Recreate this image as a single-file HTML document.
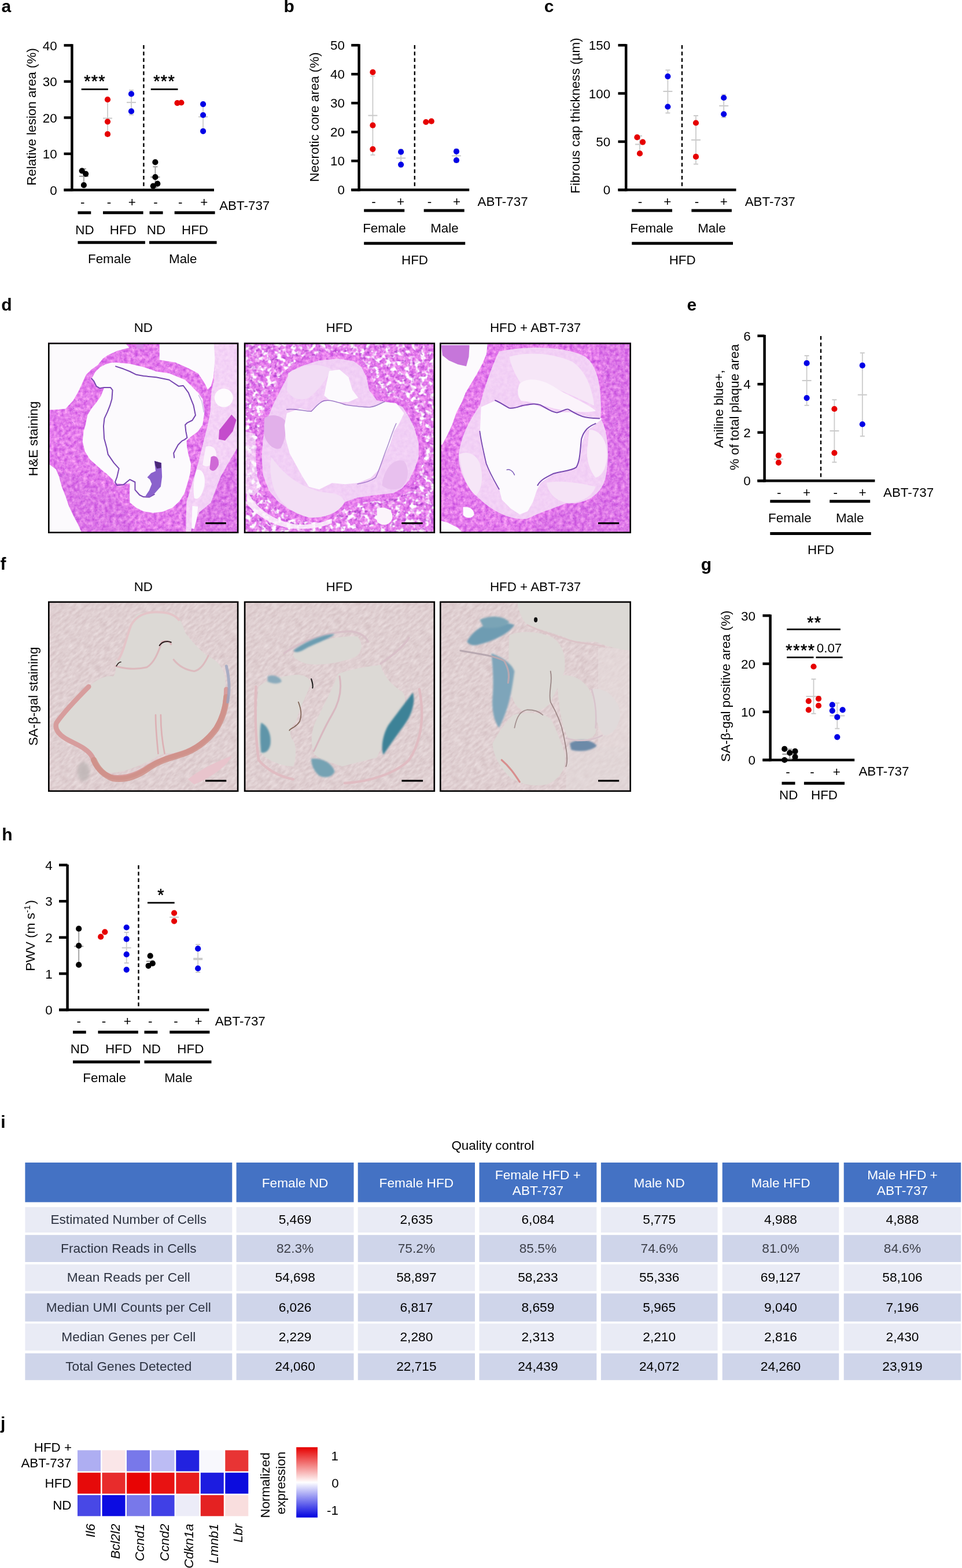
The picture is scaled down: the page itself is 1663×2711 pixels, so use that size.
<!DOCTYPE html>
<html><head><meta charset="utf-8"><title>Figure</title><style>html,body{margin:0;padding:0;background:#fff;}svg{display:block;}</style></head><body>
<svg width="1663" height="2711" viewBox="0 0 1663 2711" font-family="'Liberation Sans', Arial, sans-serif">
<rect width="1663" height="2711" fill="#ffffff"/>
<text x="2.2" y="537.0" font-size="30" text-anchor="start" font-weight="bold" fill="#000" >d</text>
<text x="0.4" y="985.2" font-size="30" text-anchor="start" font-weight="bold" fill="#000" >f</text>
<text x="247.8" y="574.4" font-size="22.4" text-anchor="middle" font-weight="normal" fill="#000" >ND</text>
<text x="247.8" y="1022.3" font-size="22.4" text-anchor="middle" font-weight="normal" fill="#000" >ND</text>
<text x="586.5" y="574.4" font-size="22.4" text-anchor="middle" font-weight="normal" fill="#000" >HFD</text>
<text x="586.5" y="1022.3" font-size="22.4" text-anchor="middle" font-weight="normal" fill="#000" >HFD</text>
<text x="925.6" y="574.4" font-size="22.4" text-anchor="middle" font-weight="normal" fill="#000" >HFD + ABT-737</text>
<text x="925.6" y="1022.3" font-size="22.4" text-anchor="middle" font-weight="normal" fill="#000" >HFD + ABT-737</text>
<text transform="translate(65.0,758.5) rotate(-90)" x="0" y="0" font-size="22.4" text-anchor="middle" >H&amp;E staining</text>
<text transform="translate(65.0,1203.9) rotate(-90)" x="0" y="0" font-size="22.4" text-anchor="middle" >SA-β-gal staining</text>
<defs><filter id="holes" x="0" y="0" width="1" height="1"><feTurbulence type="fractalNoise" baseFrequency="0.026" numOctaves="2" seed="7" result="n"/><feColorMatrix in="n" type="matrix" values="0 0 0 0 1  0 0 0 0 1  0 0 0 0 1  5 0 0 0 -2.45" result="a"/><feComposite in="SourceGraphic" in2="a" operator="in"/></filter><filter id="spots" x="0" y="0" width="1" height="1"><feTurbulence type="fractalNoise" baseFrequency="0.032" numOctaves="2" seed="3" result="n"/><feColorMatrix in="n" type="matrix" values="0 0 0 0 1  0 0 0 0 1  0 0 0 0 1  0 5 0 0 -2.9" result="a"/><feComposite in="SourceGraphic" in2="a" operator="in"/></filter><filter id="blur6"><feGaussianBlur stdDeviation="12"/></filter><filter id="bl" x="-0.2" y="-0.2" width="1.4" height="1.4"><feGaussianBlur stdDeviation="7"/></filter><filter id="heT" x="0" y="0" width="1" height="1" color-interpolation-filters="sRGB"><feTurbulence type="fractalNoise" baseFrequency="0.035" numOctaves="3" seed="4" result="n"/><feColorMatrix in="n" type="matrix" values="0.32 0 0 0 0.735  0.55 0 0 0 0.21  0.15 0 0 0 0.85  0 0 0 0 1" result="base"/><feTurbulence type="fractalNoise" baseFrequency="0.11" numOctaves="2" seed="9" result="m"/><feColorMatrix in="m" type="matrix" values="0 0 0 0 0.55  0 0 0 0 0.36  0 0 0 0 0.82  -6 0 0 0 1.75" result="dots"/><feComposite in="dots" in2="base" operator="over"/></filter><filter id="sbT" x="0" y="0" width="1" height="1" color-interpolation-filters="sRGB"><feTurbulence type="fractalNoise" baseFrequency="0.02 0.05" numOctaves="3" seed="11"/><feColorMatrix type="matrix" values="0.12 0 0 0 0.815  0.16 0 0 0 0.732  0.15 0 0 0 0.745  0 0 0 0 1"/></filter><pattern id="heP" patternUnits="userSpaceOnUse" width="1511" height="1511"><rect width="1511" height="1511" filter="url(#heT)"/></pattern></defs>
<clipPath id="clip1"><rect x="83" y="592.5" width="329.4" height="329.5"/></clipPath>
<g clip-path="url(#clip1)"><g transform="translate(80,590) scale(0.222369)">
<rect x="0" y="0" width="1511" height="1511" filter="url(#heT)"/><path d="M20,1000 L150,1020 L300,1070 L480,1150 L620,1290 L690,1511 L0,1511 Z" fill="#b050d0" opacity="0.12"/><path d="M1300,980 L1511,880 L1511,1511 L1120,1511 L1180,1280 Z" fill="#b050d0" opacity="0.12"/><path d="M1305,0 L1511,0 L1511,800 L1485,830 L1420,940 L1355,1055 L1280,1255 L1190,1330 L1130,1455 L1120,1511 L1085,1511 L1090,1250 L1120,1150 L1150,1050 L1180,950 L1205,850 L1230,750 L1255,650 L1275,550 L1280,450 L1285,380 L1305,300 Z" fill="#f7e9f9" opacity="0.8"/><circle cx="1380" cy="440" r="72" fill="#fdfbfd"/><path d="M1240,820 C1290,800 1330,840 1320,900 C1300,960 1250,990 1215,960 Z" fill="#fbf3fb" /><path d="M1170,1000 C1210,990 1240,1040 1230,1120 C1215,1200 1180,1240 1150,1220 C1140,1150 1145,1060 1170,1000 Z" fill="#fcfafd" /><path d="M1135,1280 L1180,1285 L1170,1380 L1150,1460 L1130,1455 Z" fill="#fcfafd" /><path d="M1440,570 L1478,612 L1450,700 L1390,772 L1340,762 L1345,690 L1400,622 Z" fill="#c44ccc" /><path d="M1280,900 C1310,880 1345,900 1340,960 C1320,1010 1290,1020 1270,990 Z" fill="#cf6ad6" /><path d="M0,0 L600,0 L645,50 L550,75 L475,110 L440,135 L400,185 L350,220 L310,260 L280,325 L250,390 L210,460 L150,525 L75,532 L0,534 Z" fill="#fcfafd" /><path d="M0,940 L75,995 L100,1055 L120,1130 L150,1205 L175,1280 L210,1355 L250,1430 L285,1511 L0,1511 Z" fill="#fcfafd" /><path d="M880,0 L1305,0 L1310,150 L1300,280 L1280,350 L1255,375 L1230,325 L1180,250 L1105,210 L1005,165 L880,145 Z" fill="#fcfafd" /><path d="M700,20 L760,25 L750,60 L700,55 Z" fill="#d88ae8" /><path d="M355,288 L380,240 L420,200 L460,180 L500,168 L540,165 L650,175 L755,200 L855,235 L955,250 L1030,280 L1080,300 L1130,350 L1180,400 L1215,450 L1230,550 L1215,650 L1180,700 L1120,745 L1090,775 L1095,830 L1105,880 L1125,955 L1120,1020 L1105,1080 L1075,1180 L1035,1245 L980,1295 L905,1325 L830,1335 L755,1322 L700,1295 L650,1255 L648,1180 L650,1105 L590,1110 L530,1105 L520,1080 L475,1035 L425,995 L380,955 L340,920 L300,855 L282,780 L290,700 L305,650 L320,575 L350,525 L390,475 L425,425 L450,360 L415,365 L390,350 L370,310 Z" fill="#fcfafd" /><path d="M540,195 L600,215 L650,235 L700,260 L755,270 L855,280 L955,300 L1030,350 L1065,345 L1105,400 L1145,500 L1160,575 L1135,615 L1095,635 L1080,650 L1085,700 L1095,750 L1075,765 L1055,775 L1025,805 L990,870 L995,905" fill="none" stroke="#7646b0" stroke-width="9" stroke-linejoin="round" stroke-linecap="round" /><path d="M352,290 L370,310 L390,350 L415,365 L450,360 L500,360 L515,380 L510,450 L495,500 L475,550 L452,600 L445,660 L450,755 L470,830 L480,880 L525,945 L565,990 L550,1055 L535,1095 L550,1120 L600,1115 L650,1075 L690,1095 L690,1155 L725,1195 L755,1210 L800,1212 L840,1190" fill="none" stroke="#7646b0" stroke-width="9" stroke-linejoin="round" stroke-linecap="round" /><path d="M1185,420 L1210,470 L1225,550" fill="none" stroke="#a070d0" stroke-width="6" stroke-linejoin="round" stroke-linecap="round" opacity="0.5"/><path d="M840,930 L895,945 L900,1055 L890,1130 L845,1180 L805,1212 L770,1205 L800,1160 L820,1110 L805,1075 L785,1058 L815,1025 L850,1010 L845,970 Z" fill="#8a62cc" /><path d="M842,932 L893,946 L892,985 L860,990 L848,965 Z" fill="#4a2878" />
</g></g>
<rect x="355.3" y="903.1" width="35.6" height="3.1" fill="#000"/>
<rect x="84.3" y="593.8" width="326.8" height="326.9" fill="none" stroke="#000" stroke-width="2.6"/>
<clipPath id="clip2"><rect x="421.8" y="592.5" width="330.3" height="329.5"/></clipPath>
<g clip-path="url(#clip2)"><g transform="translate(418,590) scale(0.222369)">
<rect x="0" y="0" width="1511" height="1511" filter="url(#heT)"/><rect x="0" y="0" width="1511" height="1511" fill="#fff" filter="url(#holes)"/><rect x="0" y="0" width="1511" height="1511" fill="#a838c8" filter="url(#spots)" opacity="0.75"/><path d="M40,1150 C80,1260 200,1380 400,1420 C500,1435 600,1420 700,1380 L700,1415 C600,1455 480,1465 380,1455 C250,1435 120,1365 40,1265 Z" fill="#fbf5fc" opacity="0.85"/><path d="M20,700 L105,720 L112,950 L145,1150 L95,1200 L20,1180 Z" fill="#fbf5fc" opacity="0.6"/><path d="M1050,1300 C1120,1280 1180,1310 1170,1380 C1150,1440 1080,1440 1050,1400 Z" fill="#fbf4fb" /><path d="M330,230 L450,150 L600,100 L750,85 L880,110 L950,160 L1000,250 L1030,350 L1100,420 L1200,440 L1280,470 L1330,550 L1380,650 L1420,780 L1420,900 L1390,1000 L1340,1100 L1280,1180 L1200,1220 L1050,1240 L900,1260 L800,1300 L700,1380 L600,1410 L480,1400 L350,1350 L250,1280 L170,1180 L120,1050 L110,900 L120,750 L150,600 L200,480 L260,350 Z" fill="url(#heP)" /><path d="M360,270 L460,195 L600,150 L750,135 L870,155 L930,200 L970,280 L990,380 L1050,460 L1180,480 L1250,510 L1295,580 L1340,670 L1375,790 L1375,900 L1345,990 L1300,1080 L1245,1145 L1180,1180 L1050,1195 L900,1215 L790,1255 L690,1335 L600,1365 L490,1355 L370,1310 L280,1245 L210,1160 L165,1040 L155,900 L165,760 L195,615 L240,500 L300,380 Z" fill="#f3def7" opacity="0.85"/><path d="M175,600 C220,560 300,570 342,622 C352,700 332,780 302,832 C252,852 192,802 172,722 Z" fill="#e2b0ea" /><path d="M1090,1120 C1100,1000 1180,900 1262,932 C1312,1002 1292,1102 1232,1142 C1182,1162 1122,1152 1090,1120 Z" fill="#e8c0ee" /><path d="M230,900 C300,1000 400,1100 550,1150 C650,1200 760,1150 800,1250 C760,1330 650,1380 520,1370 C400,1340 300,1270 250,1150 C220,1050 215,970 230,900 Z" fill="#f3dff5" /><path d="M360,250 C450,180 600,160 700,220 C650,300 600,380 520,440 C450,470 380,440 350,380 Z" fill="#f2dcf5" /><path d="M680,230 L760,220 L830,280 L860,380 L905,440 L830,472 L700,472 L640,422 L660,322 Z" fill="#fcfafd" /><path d="M350,560 L450,522 L540,545 L600,477 L700,457 L800,492 L900,502 L1000,512 L1100,472 L1200,482 L1262,560 L1222,642 L1182,702 L1152,802 L1102,902 L1062,1002 L1002,1062 L902,1102 L802,1112 L702,1102 L602,1152 L522,1132 L472,1052 L422,962 L372,872 L342,762 L332,652 Z" fill="#fcfafd" /><path d="M350,530 C420,520 480,545 540,545 C570,520 590,480 640,462 C700,452 760,480 810,495 C880,505 950,515 1000,512 C1050,505 1080,480 1110,470" fill="none" stroke="#7646b0" stroke-width="7" stroke-linejoin="round" stroke-linecap="round" opacity="0.7"/><path d="M1200,640 C1170,700 1150,780 1120,850 C1090,930 1070,1000 1040,1060 C1000,1090 950,1100 900,1110" fill="none" stroke="#7646b0" stroke-width="7" stroke-linejoin="round" stroke-linecap="round" opacity="0.6"/>
</g></g>
<rect x="694.2" y="903.1" width="36.5" height="3.1" fill="#000"/>
<rect x="423.1" y="593.8" width="327.7" height="326.9" fill="none" stroke="#000" stroke-width="2.6"/>
<clipPath id="clip3"><rect x="760" y="592.5" width="331" height="329.5"/></clipPath>
<g clip-path="url(#clip3)"><g transform="translate(756,590) scale(0.222369)">
<rect x="0" y="0" width="1511" height="1511" filter="url(#heT)"/><path d="M1250,0 L1511,0 L1511,1511 L700,1511 L800,1380 L1000,1300 L1200,1250 L1300,1100 L1320,800 L1300,500 L1280,250 Z" fill="#b050d0" opacity="0.12"/><path d="M0,0 L392,0 L382,100 L350,175 L310,250 L265,325 L220,400 L190,475 L150,550 L115,650 L75,735 L40,800 L0,830 Z" fill="#fcfafd" /><path d="M30,30 L250,30 L245,120 L225,195 L160,180 L90,150 L40,110 Z" fill="#c676da" /><path d="M0,1390 L80,1410 L160,1450 L215,1511 L0,1511 Z" fill="#fcfafd" /><path d="M200,1290 C250,1280 290,1310 285,1350 C270,1380 220,1380 200,1350 Z" fill="#fcfafd" /><path d="M480,80 C700,30 1000,40 1150,120 C1260,200 1280,400 1270,600 C1330,700 1340,900 1310,1050 C1280,1200 1150,1270 1000,1260 C900,1300 800,1330 700,1380 C550,1400 400,1300 300,1200 C200,1100 150,950 170,850 C200,700 260,600 330,500 C370,350 420,200 480,80 Z" fill="#f4dff7" opacity="0.85"/><path d="M560,120 C700,80 900,90 1050,160 C1150,230 1200,350 1220,500 C1150,470 1050,420 950,380 C850,330 750,300 650,330 C600,250 570,180 560,120 Z" fill="#f6e6f7" /><path d="M640,330 C700,280 800,290 900,350 C1000,420 1150,470 1232,542 C1150,562 1050,542 950,532 C850,512 750,472 650,462 C620,422 620,372 640,330 Z" fill="#fbf3fb" /><path d="M1180,690 C1250,680 1320,760 1320,880 C1320,980 1280,1050 1230,1060 C1180,1000 1150,900 1170,800 Z" fill="#f8ecf8" /><path d="M850,1100 C950,1080 1100,1100 1230,1130 C1200,1220 1100,1260 1000,1255 C920,1240 860,1180 850,1100 Z" fill="#f5e3f6" /><path d="M170,880 C220,850 300,870 330,950 C360,1050 350,1150 300,1200 C240,1150 190,1050 170,880 Z" fill="#f6e6f7" /><path d="M340,512 L450,462 L510,492 L560,522 L650,512 L750,492 L850,527 L950,552 L1050,552 L1150,582 L1282,602 L1222,652 L1152,702 L1122,802 L1112,902 L1082,982 L1002,1012 L902,1032 L802,1102 L772,1162 L742,1252 L702,1322 L642,1347 L572,1302 L502,1232 L482,1152 L422,1062 L382,952 L352,852 L332,702 Z" fill="#fcfafd" /><path d="M450,460 C480,470 520,500 560,520 C600,525 630,510 660,500 C720,490 760,480 800,495 C850,520 880,550 930,555 C980,545 1000,520 1020,530 C1060,555 1100,580 1150,590 C1200,600 1230,600 1260,600" fill="none" stroke="#7646b0" stroke-width="9" stroke-linejoin="round" stroke-linecap="round" /><path d="M1230,640 C1180,660 1140,690 1120,760 C1110,850 1110,930 1080,980 C1040,1010 960,1010 900,1030 C840,1060 800,1080 780,1120" fill="none" stroke="#7646b0" stroke-width="9" stroke-linejoin="round" stroke-linecap="round" /><path d="M330,700 C340,780 360,860 380,950 C410,1030 440,1080 480,1150" fill="none" stroke="#7646b0" stroke-width="8" stroke-linejoin="round" stroke-linecap="round" /><path d="M540,1000 C560,990 590,1010 600,1040" fill="none" stroke="#7a58b8" stroke-width="6" stroke-linejoin="round" stroke-linecap="round" />
</g></g>
<rect x="1034" y="903.1" width="36.2" height="3.1" fill="#000"/>
<rect x="761.3" y="593.8" width="328.4" height="326.9" fill="none" stroke="#000" stroke-width="2.6"/>
<clipPath id="clip4"><rect x="83" y="1039.6" width="329.4" height="329.4"/></clipPath>
<g clip-path="url(#clip4)"><g transform="translate(80,1036) scale(0.222369)">
<rect x="-900" y="-900" width="3300" height="3300" filter="url(#sbT)" transform="rotate(-40 755 755)"/><path d="M700,120 C760,90 900,90 990,110 C1040,140 1060,200 1080,260 C1130,330 1200,400 1250,440 C1320,470 1370,520 1390,600 C1400,700 1380,800 1360,880 C1320,980 1280,1050 1200,1120 C1100,1180 1000,1200 920,1200 C870,1210 840,1240 800,1260 C700,1300 600,1350 500,1350 C400,1340 360,1280 350,1200 C300,1140 200,1100 120,1050 C70,1000 70,950 110,900 C180,830 250,750 330,680 C400,620 460,590 520,600 C560,560 520,500 560,460 C600,420 620,300 650,200 Z" fill="#dcd9d5" /><path d="M330,680 C250,760 150,860 80,960 C60,1010 100,1060 180,1100 C260,1140 330,1170 360,1230 C380,1300 420,1350 500,1380 C600,1400 700,1370 800,1300 C880,1250 950,1230 1050,1200 C1150,1170 1250,1100 1320,1000 C1380,900 1400,800 1400,700" fill="none" stroke="#d79d9d" stroke-width="38" stroke-linejoin="round" stroke-linecap="round" /><path d="M370,1250 C400,1320 450,1370 520,1395 C620,1410 720,1370 800,1310 C880,1255 960,1235 1060,1205 C1160,1170 1250,1105 1320,1010 C1370,930 1395,850 1400,760" fill="none" stroke="#cf9088" stroke-width="46" stroke-linejoin="round" stroke-linecap="round" opacity="0.85"/><path d="M560,470 C600,420 620,300 660,200 C700,130 760,100 850,100 C950,100 1000,120 1030,160" fill="none" stroke="#e4c4c8" stroke-width="18" stroke-linejoin="round" stroke-linecap="round" /><path d="M540,520 C600,540 700,550 780,530 C850,490 880,380 900,330 C930,320 960,330 970,350" fill="none" stroke="#dcb8bc" stroke-width="14" stroke-linejoin="round" stroke-linecap="round" /><path d="M880,360 C900,330 940,320 970,335" fill="none" stroke="#2a1c1c" stroke-width="9" stroke-linejoin="round" stroke-linecap="round" /><path d="M545,520 C555,500 565,490 580,488" fill="none" stroke="#2a1c1c" stroke-width="7" stroke-linejoin="round" stroke-linecap="round" /><path d="M990,470 C1030,520 1080,550 1150,560 C1200,550 1230,500 1260,440" fill="none" stroke="#dcbabe" stroke-width="14" stroke-linejoin="round" stroke-linecap="round" /><path d="M1400,520 C1420,600 1430,700 1410,800" fill="none" stroke="#9aa4c0" stroke-width="22" stroke-linejoin="round" stroke-linecap="round" opacity="0.8"/><path d="M850,900 C850,1000 860,1100 870,1200 M890,900 C890,1000 900,1100 920,1200" fill="none" stroke="#dcb0b4" stroke-width="12" stroke-linejoin="round" stroke-linecap="round" /><ellipse cx="290" cy="1340" rx="48" ry="75" fill="#bdb5b5" opacity="0.8" filter="url(#blur6)"/><path d="M1100,1400 C1200,1320 1350,1250 1440,1220 C1420,1280 1300,1380 1150,1440 Z" fill="#e8c4cc" />
</g></g>
<rect x="355" y="1348.4" width="36.3" height="3.1" fill="#000"/>
<rect x="84.3" y="1040.9" width="326.8" height="326.8" fill="none" stroke="#000" stroke-width="2.6"/>
<clipPath id="clip5"><rect x="421.8" y="1039.6" width="330.3" height="329.4"/></clipPath>
<g clip-path="url(#clip5)"><g transform="translate(418,1036) scale(0.222369)">
<rect x="-900" y="-900" width="3300" height="3300" filter="url(#sbT)" transform="rotate(-40 755 755)"/><path d="M130,680 C200,620 300,600 400,590 C470,580 520,600 540,650 C500,750 450,850 420,950 C380,1000 360,1050 400,1100 C430,1150 420,1250 400,1300 C300,1300 200,1250 150,1200 C110,1100 110,900 130,680 Z" fill="#dcd9d5" /><path d="M750,580 C850,540 1000,520 1080,510 C1100,600 1180,680 1250,720 C1300,800 1250,900 1180,980 C1120,1050 1090,1150 1050,1230 C950,1260 850,1280 780,1300 C700,1270 600,1250 560,1200 C530,1100 540,1000 600,900 C650,800 700,700 750,580 Z" fill="#dcd9d5" /><path d="M400,420 C500,350 700,280 900,290 C950,350 930,420 880,450 C750,500 600,520 500,500 C430,480 390,450 400,420 Z" fill="#dcd9d5" /><path d="M110,680 C100,900 110,1100 130,1250 C200,1330 300,1380 400,1400 M1380,700 C1420,900 1400,1100 1300,1250 C1200,1350 1000,1420 800,1430" fill="none" stroke="#e0bcc2" stroke-width="20" stroke-linejoin="round" stroke-linecap="round" /><path d="M330,420 C450,330 650,260 820,250 C900,250 960,280 980,330 M1080,500 C1150,450 1250,380 1300,300" fill="none" stroke="#d8c0c8" stroke-width="16" stroke-linejoin="round" stroke-linecap="round" /><path d="M1330,725 C1352,800 1322,900 1262,980 C1202,1060 1142,1150 1100,1210 C1078,1150 1098,1050 1138,980 C1198,900 1258,820 1330,725 Z" fill="#3d8297" filter="url(#bl)"/><path d="M150,960 C200,980 232,1050 222,1130 C212,1180 182,1200 150,1192 C140,1100 140,1000 150,960 Z" fill="#5f95a9" filter="url(#bl)"/><path d="M540,1240 C620,1230 700,1270 722,1340 C700,1390 640,1392 600,1372 C560,1332 540,1292 540,1240 Z" fill="#74a2b3" filter="url(#bl)"/><path d="M400,400 C500,320 650,270 722,270 C700,300 600,332 500,382 C450,412 420,420 400,400 Z" fill="#6c9db1" filter="url(#bl)"/><path d="M200,600 C240,580 300,600 310,640 C290,660 240,660 200,640 Z" fill="#8aaabb" filter="url(#bl)"/><path d="M440,800 C460,850 470,900 450,950 C420,1000 380,1000 370,1020" fill="none" stroke="#6a4a3a" stroke-width="8" stroke-linejoin="round" stroke-linecap="round" opacity="0.8"/><path d="M540,620 C550,650 555,670 550,690" fill="none" stroke="#1a1a1a" stroke-width="9" stroke-linejoin="round" stroke-linecap="round" /><path d="M560,1180 C600,1100 640,1000 700,900 C760,800 780,700 760,600" fill="none" stroke="#d8b8c0" stroke-width="14" stroke-linejoin="round" stroke-linecap="round" />
</g></g>
<rect x="694.4" y="1348.4" width="36.7" height="3.1" fill="#000"/>
<rect x="423.1" y="1040.9" width="327.7" height="326.8" fill="none" stroke="#000" stroke-width="2.6"/>
<clipPath id="clip6"><rect x="760" y="1039.6" width="331" height="329.4"/></clipPath>
<g clip-path="url(#clip6)"><g transform="translate(756,1036) scale(0.222369)">
<rect x="-900" y="-900" width="3300" height="3300" filter="url(#sbT)" transform="rotate(-40 755 755)"/><path d="M1250,380 L1511,380 L1511,1150 L1250,1150 Z" fill="#e6dcdc" opacity="0.6"/><path d="M1000,1150 L1511,1150 L1511,1511 L1000,1511 Z" fill="#e2dada" opacity="0.6"/><path d="M620,20 L1511,20 L1511,400 C1400,390 1300,360 1230,330 C1150,330 1080,340 1000,300 C900,260 800,240 700,200 C650,150 630,80 620,20 Z" fill="#dcd9d5" /><path d="M560,280 C650,240 800,250 900,300 C980,360 1000,450 990,550 C960,650 920,720 880,800 C840,860 760,880 680,870 C610,850 580,780 570,700 C555,560 550,420 560,280 Z" fill="#dcd9d5" /><path d="M590,900 C700,870 820,880 880,930 C920,1000 960,1100 990,1200 C1010,1300 960,1400 850,1440 C740,1460 640,1440 560,1380 C480,1300 430,1200 430,1120 C480,1030 530,950 590,900 Z" fill="#dcd9d5" /><path d="M930,600 C1020,570 1120,610 1180,700 C1230,800 1250,920 1230,1040 C1200,1100 1100,1110 1020,1080 C970,1000 940,850 930,600 Z" fill="#dcd9d5" /><path d="M1200,700 C1300,680 1400,760 1420,880 C1420,980 1370,1050 1300,1060 C1240,1000 1220,900 1200,700 Z" fill="#e0dada" /><path d="M230,330 C300,200 450,150 600,200 C560,260 480,300 400,330 C330,350 270,380 230,330 Z" fill="#6e9cb2" filter="url(#bl)"/><path d="M330,160 C420,120 520,130 560,180 C520,220 430,230 360,220 Z" fill="#7aa4b6" filter="url(#bl)"/><path d="M420,420 C500,450 580,500 600,560 C580,700 560,850 480,1000 C440,950 420,850 430,750 C440,650 430,520 420,420 Z" fill="#7ea5ba" filter="url(#bl)"/><path d="M1030,1120 C1100,1080 1200,1090 1240,1140 C1200,1180 1100,1190 1040,1170 Z" fill="#6c8aa8" filter="url(#bl)"/><path d="M180,400 C300,420 450,440 520,480 C560,550 560,600 550,650" fill="none" stroke="#b8a8b0" stroke-width="14" stroke-linejoin="round" stroke-linecap="round" /><path d="M880,560 C900,650 860,720 880,800 C920,870 960,950 980,1050 C1000,1150 1020,1250 1000,1300" fill="none" stroke="#8a7070" stroke-width="8" stroke-linejoin="round" stroke-linecap="round" opacity="0.8"/><path d="M600,1000 C620,900 650,870 700,860 C760,860 800,880 820,900" fill="none" stroke="#8a7070" stroke-width="8" stroke-linejoin="round" stroke-linecap="round" opacity="0.7"/><path d="M500,1250 C560,1300 600,1360 640,1420" fill="none" stroke="#d88e8e" stroke-width="14" stroke-linejoin="round" stroke-linecap="round" /><path d="M700,200 C800,250 900,280 1000,310 C1100,350 1200,340 1300,370" fill="none" stroke="#dcc4c8" stroke-width="12" stroke-linejoin="round" stroke-linecap="round" /><path d="M1200,700 C1230,800 1240,900 1230,1000 M1000,1080 C1100,1110 1200,1100 1280,1060" fill="none" stroke="#d8c4cc" stroke-width="12" stroke-linejoin="round" stroke-linecap="round" /><ellipse cx="765" cy="160" rx="14" ry="20" fill="#111"/>
</g></g>
<rect x="1034" y="1348.4" width="36.2" height="3.1" fill="#000"/>
<rect x="761.3" y="1040.9" width="328.4" height="326.8" fill="none" stroke="#000" stroke-width="2.6"/>
<text x="2.5" y="20.9" font-size="30" text-anchor="start" font-weight="bold" fill="#000" >a</text>
<line x1="124.4" y1="76.2" x2="124.4" y2="330.6" stroke="#000" stroke-width="4.5" />
<line x1="110.5" y1="328.4" x2="370.0" y2="328.4" stroke="#000" stroke-width="4.5" />
<line x1="110.5" y1="78.4" x2="124.4" y2="78.4" stroke="#000" stroke-width="4.5" />
<text x="98.6" y="86.6" font-size="22.4" text-anchor="end" font-weight="normal" fill="#000" >40</text>
<line x1="110.5" y1="140.9" x2="124.4" y2="140.9" stroke="#000" stroke-width="4.5" />
<text x="98.6" y="149.1" font-size="22.4" text-anchor="end" font-weight="normal" fill="#000" >30</text>
<line x1="110.5" y1="203.4" x2="124.4" y2="203.4" stroke="#000" stroke-width="4.5" />
<text x="98.6" y="211.6" font-size="22.4" text-anchor="end" font-weight="normal" fill="#000" >20</text>
<line x1="110.5" y1="265.9" x2="124.4" y2="265.9" stroke="#000" stroke-width="4.5" />
<text x="98.6" y="274.1" font-size="22.4" text-anchor="end" font-weight="normal" fill="#000" >10</text>
<line x1="110.5" y1="328.4" x2="124.4" y2="328.4" stroke="#000" stroke-width="4.5" />
<text x="98.6" y="336.6" font-size="22.4" text-anchor="end" font-weight="normal" fill="#000" >0</text>
<line x1="248.4" y1="78.0" x2="248.4" y2="327.4" stroke="#000" stroke-width="2.4" stroke-dasharray="6.5 4.8"/>
<line x1="140.7" y1="154.3" x2="186.8" y2="154.3" stroke="#000" stroke-width="2.8" />
<text x="150.8" y="150.0" font-size="29" text-anchor="middle" stroke="#000" stroke-width="0.6">*</text>
<text x="163.4" y="150.0" font-size="29" text-anchor="middle" stroke="#000" stroke-width="0.6">*</text>
<text x="176.0" y="150.0" font-size="29" text-anchor="middle" stroke="#000" stroke-width="0.6">*</text>
<line x1="260.8" y1="154.3" x2="307.5" y2="154.3" stroke="#000" stroke-width="2.8" />
<text x="270.9" y="150.0" font-size="29" text-anchor="middle" stroke="#000" stroke-width="0.6">*</text>
<text x="283.5" y="150.0" font-size="29" text-anchor="middle" stroke="#000" stroke-width="0.6">*</text>
<text x="296.1" y="150.0" font-size="29" text-anchor="middle" stroke="#000" stroke-width="0.6">*</text>
<line x1="144.9" y1="292.0" x2="144.9" y2="317.6" stroke="#9c9c9c" stroke-width="1.8" />
<line x1="140.9" y1="292.0" x2="148.9" y2="292.0" stroke="#9c9c9c" stroke-width="2.0" />
<line x1="140.9" y1="317.6" x2="148.9" y2="317.6" stroke="#9c9c9c" stroke-width="2.0" />
<line x1="136.9" y1="304.8" x2="152.9" y2="304.8" stroke="#9c9c9c" stroke-width="2.1" />
<circle cx="141.7" cy="295.3" r="5.1" fill="#000000"/>
<circle cx="148.2" cy="300.6" r="5.1" fill="#000000"/>
<circle cx="144.9" cy="320.1" r="5.1" fill="#000000"/>
<line x1="186.0" y1="173.9" x2="186.0" y2="235.1" stroke="#cbcbcb" stroke-width="1.8" />
<line x1="182.0" y1="173.9" x2="190.0" y2="173.9" stroke="#cbcbcb" stroke-width="2.0" />
<line x1="182.0" y1="235.1" x2="190.0" y2="235.1" stroke="#cbcbcb" stroke-width="2.0" />
<line x1="178.0" y1="204.5" x2="194.0" y2="204.5" stroke="#cbcbcb" stroke-width="2.1" />
<circle cx="186.0" cy="172.2" r="5.1" fill="#e60000"/>
<circle cx="186.0" cy="210.3" r="5.1" fill="#e60000"/>
<circle cx="186.0" cy="231.9" r="5.1" fill="#e60000"/>
<line x1="227.0" y1="155.9" x2="227.0" y2="198.4" stroke="#cbcbcb" stroke-width="1.8" />
<line x1="223.0" y1="155.9" x2="231.0" y2="155.9" stroke="#cbcbcb" stroke-width="2.0" />
<line x1="223.0" y1="198.4" x2="231.0" y2="198.4" stroke="#cbcbcb" stroke-width="2.0" />
<line x1="219.0" y1="177.1" x2="235.0" y2="177.1" stroke="#cbcbcb" stroke-width="2.1" />
<circle cx="227.0" cy="162.4" r="5.1" fill="#0000e6"/>
<circle cx="227.0" cy="192.4" r="5.1" fill="#0000e6"/>
<line x1="268.4" y1="288.3" x2="268.4" y2="324.0" stroke="#9c9c9c" stroke-width="1.8" />
<line x1="264.4" y1="288.3" x2="272.4" y2="288.3" stroke="#9c9c9c" stroke-width="2.0" />
<line x1="264.4" y1="324.0" x2="272.4" y2="324.0" stroke="#9c9c9c" stroke-width="2.0" />
<line x1="260.4" y1="306.2" x2="276.4" y2="306.2" stroke="#9c9c9c" stroke-width="2.1" />
<circle cx="268.4" cy="280.4" r="5.1" fill="#000000"/>
<circle cx="268.4" cy="306.2" r="5.1" fill="#000000"/>
<circle cx="272.3" cy="317.7" r="5.1" fill="#000000"/>
<circle cx="264.8" cy="321.7" r="5.1" fill="#000000"/>
<line x1="302.0" y1="178.0" x2="318.0" y2="178.0" stroke="#cbcbcb" stroke-width="2.1" />
<circle cx="306.5" cy="178.1" r="5.1" fill="#e60000"/>
<circle cx="313.4" cy="177.5" r="5.1" fill="#e60000"/>
<line x1="351.1" y1="178.6" x2="351.1" y2="225.4" stroke="#cbcbcb" stroke-width="1.8" />
<line x1="347.1" y1="178.6" x2="355.1" y2="178.6" stroke="#cbcbcb" stroke-width="2.0" />
<line x1="347.1" y1="225.4" x2="355.1" y2="225.4" stroke="#cbcbcb" stroke-width="2.0" />
<line x1="343.1" y1="202.0" x2="359.1" y2="202.0" stroke="#cbcbcb" stroke-width="2.1" />
<circle cx="351.1" cy="180.1" r="5.1" fill="#0000e6"/>
<circle cx="351.1" cy="199.0" r="5.1" fill="#0000e6"/>
<circle cx="351.1" cy="226.8" r="5.1" fill="#0000e6"/>
<text x="142.8" y="356.5" font-size="22.4" text-anchor="middle" font-weight="normal" fill="#000" >-</text>
<text x="188.5" y="356.5" font-size="22.4" text-anchor="middle" font-weight="normal" fill="#000" >-</text>
<text x="228.3" y="356.5" font-size="22.4" text-anchor="middle" font-weight="normal" fill="#000" >+</text>
<text x="269.0" y="356.5" font-size="22.4" text-anchor="middle" font-weight="normal" fill="#000" >-</text>
<text x="311.8" y="356.5" font-size="22.4" text-anchor="middle" font-weight="normal" fill="#000" >-</text>
<text x="352.8" y="356.5" font-size="22.4" text-anchor="middle" font-weight="normal" fill="#000" >+</text>
<text x="379.2" y="362.8" font-size="22.4" text-anchor="start" font-weight="normal" fill="#000" >ABT-737</text>
<line x1="134.5" y1="367.8" x2="157.3" y2="367.8" stroke="#000" stroke-width="5.0" />
<line x1="178.0" y1="367.8" x2="247.6" y2="367.8" stroke="#000" stroke-width="5.0" />
<line x1="258.5" y1="367.8" x2="281.6" y2="367.8" stroke="#000" stroke-width="5.0" />
<line x1="301.7" y1="367.8" x2="371.6" y2="367.8" stroke="#000" stroke-width="5.0" />
<text x="146.5" y="405.0" font-size="22.4" text-anchor="middle" font-weight="normal" fill="#000" >ND</text>
<text x="212.8" y="405.0" font-size="22.4" text-anchor="middle" font-weight="normal" fill="#000" >HFD</text>
<text x="270.0" y="405.0" font-size="22.4" text-anchor="middle" font-weight="normal" fill="#000" >ND</text>
<text x="337.0" y="405.0" font-size="22.4" text-anchor="middle" font-weight="normal" fill="#000" >HFD</text>
<line x1="134.5" y1="419.3" x2="250.9" y2="419.3" stroke="#000" stroke-width="5.0" />
<line x1="258.0" y1="419.3" x2="374.6" y2="419.3" stroke="#000" stroke-width="5.0" />
<text x="189.3" y="454.6" font-size="22.4" text-anchor="middle" font-weight="normal" fill="#000" >Female</text>
<text x="316.3" y="454.6" font-size="22.4" text-anchor="middle" font-weight="normal" fill="#000" >Male</text>
<text transform="translate(62.3,202.0) rotate(-90)" x="0" y="0" font-size="22.4" text-anchor="middle" >Relative lesion area (%)</text>
<text x="490.4" y="21.0" font-size="30" text-anchor="start" font-weight="bold" fill="#000" >b</text>
<line x1="620.6" y1="76.2" x2="620.6" y2="330.4" stroke="#000" stroke-width="4.5" />
<line x1="607.2" y1="328.2" x2="811.2" y2="328.2" stroke="#000" stroke-width="4.5" />
<line x1="607.2" y1="78.2" x2="620.6" y2="78.2" stroke="#000" stroke-width="4.5" />
<text x="596.0" y="86.4" font-size="22.4" text-anchor="end" font-weight="normal" fill="#000" >50</text>
<line x1="607.2" y1="128.2" x2="620.6" y2="128.2" stroke="#000" stroke-width="4.5" />
<text x="596.0" y="136.4" font-size="22.4" text-anchor="end" font-weight="normal" fill="#000" >40</text>
<line x1="607.2" y1="178.2" x2="620.6" y2="178.2" stroke="#000" stroke-width="4.5" />
<text x="596.0" y="186.4" font-size="22.4" text-anchor="end" font-weight="normal" fill="#000" >30</text>
<line x1="607.2" y1="228.2" x2="620.6" y2="228.2" stroke="#000" stroke-width="4.5" />
<text x="596.0" y="236.4" font-size="22.4" text-anchor="end" font-weight="normal" fill="#000" >20</text>
<line x1="607.2" y1="278.2" x2="620.6" y2="278.2" stroke="#000" stroke-width="4.5" />
<text x="596.0" y="286.4" font-size="22.4" text-anchor="end" font-weight="normal" fill="#000" >10</text>
<line x1="607.2" y1="328.2" x2="620.6" y2="328.2" stroke="#000" stroke-width="4.5" />
<text x="596.0" y="336.4" font-size="22.4" text-anchor="end" font-weight="normal" fill="#000" >0</text>
<line x1="716.8" y1="78.0" x2="716.8" y2="327.2" stroke="#000" stroke-width="2.4" stroke-dasharray="6.5 4.8"/>
<line x1="644.4" y1="131.5" x2="644.4" y2="267.9" stroke="#cbcbcb" stroke-width="1.8" />
<line x1="640.4" y1="131.5" x2="648.4" y2="131.5" stroke="#cbcbcb" stroke-width="2.0" />
<line x1="640.4" y1="267.9" x2="648.4" y2="267.9" stroke="#cbcbcb" stroke-width="2.0" />
<line x1="636.4" y1="199.7" x2="652.4" y2="199.7" stroke="#cbcbcb" stroke-width="2.1" />
<circle cx="644.4" cy="124.8" r="5.1" fill="#e60000"/>
<circle cx="644.4" cy="216.7" r="5.1" fill="#e60000"/>
<circle cx="644.4" cy="257.8" r="5.1" fill="#e60000"/>
<line x1="693.1" y1="258.5" x2="693.1" y2="288.5" stroke="#cbcbcb" stroke-width="1.8" />
<line x1="689.1" y1="258.5" x2="697.1" y2="258.5" stroke="#cbcbcb" stroke-width="2.0" />
<line x1="689.1" y1="288.5" x2="697.1" y2="288.5" stroke="#cbcbcb" stroke-width="2.0" />
<line x1="685.1" y1="273.4" x2="701.1" y2="273.4" stroke="#cbcbcb" stroke-width="2.1" />
<circle cx="693.1" cy="262.7" r="5.1" fill="#0000e6"/>
<circle cx="693.1" cy="284.6" r="5.1" fill="#0000e6"/>
<circle cx="736.3" cy="211.0" r="5.1" fill="#e60000"/>
<circle cx="745.8" cy="209.7" r="5.1" fill="#e60000"/>
<line x1="789.0" y1="258.0" x2="789.0" y2="281.0" stroke="#cbcbcb" stroke-width="1.8" />
<line x1="785.0" y1="258.0" x2="793.0" y2="258.0" stroke="#cbcbcb" stroke-width="2.0" />
<line x1="785.0" y1="281.0" x2="793.0" y2="281.0" stroke="#cbcbcb" stroke-width="2.0" />
<line x1="781.0" y1="269.4" x2="797.0" y2="269.4" stroke="#cbcbcb" stroke-width="2.1" />
<circle cx="789.0" cy="261.8" r="5.1" fill="#0000e6"/>
<circle cx="789.0" cy="277.0" r="5.1" fill="#0000e6"/>
<text x="645.9" y="356.0" font-size="22.4" text-anchor="middle" font-weight="normal" fill="#000" >-</text>
<text x="692.5" y="356.0" font-size="22.4" text-anchor="middle" font-weight="normal" fill="#000" >+</text>
<text x="742.4" y="356.0" font-size="22.4" text-anchor="middle" font-weight="normal" fill="#000" >-</text>
<text x="789.6" y="356.0" font-size="22.4" text-anchor="middle" font-weight="normal" fill="#000" >+</text>
<text x="825.5" y="355.6" font-size="22.4" text-anchor="start" font-weight="normal" fill="#000" >ABT-737</text>
<line x1="629.2" y1="364.0" x2="699.2" y2="364.0" stroke="#000" stroke-width="5.0" />
<line x1="732.7" y1="364.0" x2="802.7" y2="364.0" stroke="#000" stroke-width="5.0" />
<text x="664.5" y="401.8" font-size="22.4" text-anchor="middle" font-weight="normal" fill="#000" >Female</text>
<text x="768.4" y="401.8" font-size="22.4" text-anchor="middle" font-weight="normal" fill="#000" >Male</text>
<line x1="629.2" y1="420.7" x2="804.2" y2="420.7" stroke="#000" stroke-width="5.0" />
<text x="717.0" y="456.6" font-size="22.4" text-anchor="middle" font-weight="normal" fill="#000" >HFD</text>
<text transform="translate(550.5,202.4) rotate(-90)" x="0" y="0" font-size="22.4" text-anchor="middle" >Necrotic core area (%)</text>
<text x="940.7" y="21.3" font-size="30" text-anchor="start" font-weight="bold" fill="#000" >c</text>
<line x1="1082.2" y1="76.2" x2="1082.2" y2="330.4" stroke="#000" stroke-width="4.5" />
<line x1="1068.5" y1="328.2" x2="1272.5" y2="328.2" stroke="#000" stroke-width="4.5" />
<line x1="1068.5" y1="78.2" x2="1082.2" y2="78.2" stroke="#000" stroke-width="4.5" />
<text x="1055.2" y="86.4" font-size="22.4" text-anchor="end" font-weight="normal" fill="#000" >150</text>
<line x1="1068.5" y1="161.5" x2="1082.2" y2="161.5" stroke="#000" stroke-width="4.5" />
<text x="1055.2" y="169.7" font-size="22.4" text-anchor="end" font-weight="normal" fill="#000" >100</text>
<line x1="1068.5" y1="244.9" x2="1082.2" y2="244.9" stroke="#000" stroke-width="4.5" />
<text x="1055.2" y="253.1" font-size="22.4" text-anchor="end" font-weight="normal" fill="#000" >50</text>
<line x1="1068.5" y1="328.2" x2="1082.2" y2="328.2" stroke="#000" stroke-width="4.5" />
<text x="1055.2" y="336.4" font-size="22.4" text-anchor="end" font-weight="normal" fill="#000" >0</text>
<line x1="1179.0" y1="78.0" x2="1179.0" y2="327.2" stroke="#000" stroke-width="2.4" stroke-dasharray="6.5 4.8"/>
<line x1="1106.0" y1="235.0" x2="1106.0" y2="264.0" stroke="#cbcbcb" stroke-width="1.8" />
<line x1="1102.0" y1="235.0" x2="1110.0" y2="235.0" stroke="#cbcbcb" stroke-width="2.0" />
<line x1="1102.0" y1="264.0" x2="1110.0" y2="264.0" stroke="#cbcbcb" stroke-width="2.0" />
<line x1="1098.0" y1="249.6" x2="1114.0" y2="249.6" stroke="#cbcbcb" stroke-width="2.1" />
<circle cx="1101.4" cy="237.4" r="5.1" fill="#e60000"/>
<circle cx="1111.1" cy="245.7" r="5.1" fill="#e60000"/>
<circle cx="1106.0" cy="265.4" r="5.1" fill="#e60000"/>
<line x1="1154.4" y1="121.2" x2="1154.4" y2="195.4" stroke="#cbcbcb" stroke-width="1.8" />
<line x1="1150.4" y1="121.2" x2="1158.4" y2="121.2" stroke="#cbcbcb" stroke-width="2.0" />
<line x1="1150.4" y1="195.4" x2="1158.4" y2="195.4" stroke="#cbcbcb" stroke-width="2.0" />
<line x1="1146.4" y1="158.0" x2="1162.4" y2="158.0" stroke="#cbcbcb" stroke-width="2.1" />
<circle cx="1154.4" cy="132.1" r="5.1" fill="#0000e6"/>
<circle cx="1154.4" cy="184.5" r="5.1" fill="#0000e6"/>
<line x1="1203.0" y1="200.0" x2="1203.0" y2="283.7" stroke="#cbcbcb" stroke-width="1.8" />
<line x1="1199.0" y1="200.0" x2="1207.0" y2="200.0" stroke="#cbcbcb" stroke-width="2.0" />
<line x1="1199.0" y1="283.7" x2="1207.0" y2="283.7" stroke="#cbcbcb" stroke-width="2.0" />
<line x1="1195.0" y1="242.0" x2="1211.0" y2="242.0" stroke="#cbcbcb" stroke-width="2.1" />
<circle cx="1203.0" cy="212.5" r="5.1" fill="#e60000"/>
<circle cx="1203.0" cy="270.9" r="5.1" fill="#e60000"/>
<line x1="1251.2" y1="163.5" x2="1251.2" y2="203.0" stroke="#cbcbcb" stroke-width="1.8" />
<line x1="1247.2" y1="163.5" x2="1255.2" y2="163.5" stroke="#cbcbcb" stroke-width="2.0" />
<line x1="1247.2" y1="203.0" x2="1255.2" y2="203.0" stroke="#cbcbcb" stroke-width="2.0" />
<line x1="1243.2" y1="183.0" x2="1259.2" y2="183.0" stroke="#cbcbcb" stroke-width="2.1" />
<circle cx="1251.2" cy="169.0" r="5.1" fill="#0000e6"/>
<circle cx="1251.2" cy="197.3" r="5.1" fill="#0000e6"/>
<text x="1106.6" y="356.0" font-size="22.4" text-anchor="middle" font-weight="normal" fill="#000" >-</text>
<text x="1153.7" y="356.0" font-size="22.4" text-anchor="middle" font-weight="normal" fill="#000" >+</text>
<text x="1204.6" y="356.0" font-size="22.4" text-anchor="middle" font-weight="normal" fill="#000" >-</text>
<text x="1251.2" y="356.0" font-size="22.4" text-anchor="middle" font-weight="normal" fill="#000" >+</text>
<text x="1287.7" y="355.6" font-size="22.4" text-anchor="start" font-weight="normal" fill="#000" >ABT-737</text>
<line x1="1092.3" y1="364.0" x2="1162.0" y2="364.0" stroke="#000" stroke-width="5.0" />
<line x1="1195.4" y1="364.0" x2="1264.9" y2="364.0" stroke="#000" stroke-width="5.0" />
<text x="1126.6" y="401.8" font-size="22.4" text-anchor="middle" font-weight="normal" fill="#000" >Female</text>
<text x="1230.4" y="401.8" font-size="22.4" text-anchor="middle" font-weight="normal" fill="#000" >Male</text>
<line x1="1092.3" y1="420.7" x2="1267.0" y2="420.7" stroke="#000" stroke-width="5.0" />
<text x="1179.7" y="456.6" font-size="22.4" text-anchor="middle" font-weight="normal" fill="#000" >HFD</text>
<text transform="translate(1001.5,200.0) rotate(-90)" x="0" y="0" font-size="22.4" text-anchor="middle" >Fibrous cap thickness (µm)</text>
<text x="1187.6" y="536.5" font-size="30" text-anchor="start" font-weight="bold" fill="#000" >e</text>
<line x1="1321.6" y1="579.1" x2="1321.6" y2="833.5" stroke="#000" stroke-width="4.5" />
<line x1="1309.4" y1="831.2" x2="1512.4" y2="831.2" stroke="#000" stroke-width="4.5" />
<line x1="1309.4" y1="580.7" x2="1321.6" y2="580.7" stroke="#000" stroke-width="4.5" />
<text x="1297.6" y="588.9" font-size="22.4" text-anchor="end" font-weight="normal" fill="#000" >6</text>
<line x1="1309.4" y1="664.2" x2="1321.6" y2="664.2" stroke="#000" stroke-width="4.5" />
<text x="1297.6" y="672.4" font-size="22.4" text-anchor="end" font-weight="normal" fill="#000" >4</text>
<line x1="1309.4" y1="747.7" x2="1321.6" y2="747.7" stroke="#000" stroke-width="4.5" />
<text x="1297.6" y="755.9" font-size="22.4" text-anchor="end" font-weight="normal" fill="#000" >2</text>
<line x1="1309.4" y1="831.2" x2="1321.6" y2="831.2" stroke="#000" stroke-width="4.5" />
<text x="1297.6" y="839.4" font-size="22.4" text-anchor="end" font-weight="normal" fill="#000" >0</text>
<line x1="1419.0" y1="581.0" x2="1419.0" y2="830.2" stroke="#000" stroke-width="2.4" stroke-dasharray="6.5 4.8"/>
<line x1="1337.9" y1="793.8" x2="1353.9" y2="793.8" stroke="#cbcbcb" stroke-width="2.1" />
<circle cx="1345.9" cy="787.7" r="5.1" fill="#e60000"/>
<circle cx="1345.9" cy="799.8" r="5.1" fill="#e60000"/>
<line x1="1394.6" y1="615.0" x2="1394.6" y2="700.9" stroke="#cbcbcb" stroke-width="1.8" />
<line x1="1390.6" y1="615.0" x2="1398.6" y2="615.0" stroke="#cbcbcb" stroke-width="2.0" />
<line x1="1390.6" y1="700.9" x2="1398.6" y2="700.9" stroke="#cbcbcb" stroke-width="2.0" />
<line x1="1386.6" y1="658.0" x2="1402.6" y2="658.0" stroke="#cbcbcb" stroke-width="2.1" />
<circle cx="1394.6" cy="627.9" r="5.1" fill="#0000e6"/>
<circle cx="1394.6" cy="688.1" r="5.1" fill="#0000e6"/>
<line x1="1442.4" y1="691.2" x2="1442.4" y2="799.2" stroke="#cbcbcb" stroke-width="1.8" />
<line x1="1438.4" y1="691.2" x2="1446.4" y2="691.2" stroke="#cbcbcb" stroke-width="2.0" />
<line x1="1438.4" y1="799.2" x2="1446.4" y2="799.2" stroke="#cbcbcb" stroke-width="2.0" />
<line x1="1434.4" y1="745.0" x2="1450.4" y2="745.0" stroke="#cbcbcb" stroke-width="2.1" />
<circle cx="1442.4" cy="707.0" r="5.1" fill="#e60000"/>
<circle cx="1442.4" cy="783.1" r="5.1" fill="#e60000"/>
<line x1="1490.8" y1="610.2" x2="1490.8" y2="754.2" stroke="#cbcbcb" stroke-width="1.8" />
<line x1="1486.8" y1="610.2" x2="1494.8" y2="610.2" stroke="#cbcbcb" stroke-width="2.0" />
<line x1="1486.8" y1="754.2" x2="1494.8" y2="754.2" stroke="#cbcbcb" stroke-width="2.0" />
<line x1="1482.8" y1="682.6" x2="1498.8" y2="682.6" stroke="#cbcbcb" stroke-width="2.1" />
<circle cx="1490.8" cy="631.8" r="5.1" fill="#0000e6"/>
<circle cx="1490.8" cy="733.5" r="5.1" fill="#0000e6"/>
<text x="1346.8" y="858.8" font-size="22.4" text-anchor="middle" font-weight="normal" fill="#000" >-</text>
<text x="1394.6" y="858.8" font-size="22.4" text-anchor="middle" font-weight="normal" fill="#000" >+</text>
<text x="1444.2" y="858.8" font-size="22.4" text-anchor="middle" font-weight="normal" fill="#000" >-</text>
<text x="1491.1" y="858.8" font-size="22.4" text-anchor="middle" font-weight="normal" fill="#000" >+</text>
<text x="1527.0" y="858.6" font-size="22.4" text-anchor="start" font-weight="normal" fill="#000" >ABT-737</text>
<line x1="1331.3" y1="866.8" x2="1400.7" y2="866.8" stroke="#000" stroke-width="5.0" />
<line x1="1434.2" y1="866.8" x2="1504.2" y2="866.8" stroke="#000" stroke-width="5.0" />
<text x="1365.4" y="903.3" font-size="22.4" text-anchor="middle" font-weight="normal" fill="#000" >Female</text>
<text x="1469.2" y="903.3" font-size="22.4" text-anchor="middle" font-weight="normal" fill="#000" >Male</text>
<line x1="1331.3" y1="922.5" x2="1505.7" y2="922.5" stroke="#000" stroke-width="5.0" />
<text x="1419.0" y="958.1" font-size="22.4" text-anchor="middle" font-weight="normal" fill="#000" >HFD</text>
<text transform="translate(1250.2,707.0) rotate(-90)" x="0" y="0" font-size="22.4" text-anchor="middle" >Aniline blue+,</text>
<text transform="translate(1277.2,704.0) rotate(-90)" x="0" y="0" font-size="22.4" text-anchor="middle" >% of total plaque area</text>
<text x="1211.8" y="985.7" font-size="30" text-anchor="start" font-weight="bold" fill="#000" >g</text>
<line x1="1331.6" y1="1062.5" x2="1331.6" y2="1316.2" stroke="#000" stroke-width="4.5" />
<line x1="1318.4" y1="1314.0" x2="1477.2" y2="1314.0" stroke="#000" stroke-width="4.5" />
<line x1="1318.4" y1="1064.4" x2="1331.6" y2="1064.4" stroke="#000" stroke-width="4.5" />
<text x="1306.0" y="1072.6" font-size="22.4" text-anchor="end" font-weight="normal" fill="#000" >30</text>
<line x1="1318.4" y1="1147.6" x2="1331.6" y2="1147.6" stroke="#000" stroke-width="4.5" />
<text x="1306.0" y="1155.8" font-size="22.4" text-anchor="end" font-weight="normal" fill="#000" >20</text>
<line x1="1318.4" y1="1230.8" x2="1331.6" y2="1230.8" stroke="#000" stroke-width="4.5" />
<text x="1306.0" y="1239.0" font-size="22.4" text-anchor="end" font-weight="normal" fill="#000" >10</text>
<line x1="1318.4" y1="1314.0" x2="1331.6" y2="1314.0" stroke="#000" stroke-width="4.5" />
<text x="1306.0" y="1322.2" font-size="22.4" text-anchor="end" font-weight="normal" fill="#000" >0</text>
<line x1="1360.2" y1="1088.2" x2="1452.9" y2="1088.2" stroke="#000" stroke-width="2.8" />
<text x="1401.0" y="1086.0" font-size="29" text-anchor="middle" stroke="#000" stroke-width="0.6">*</text>
<text x="1413.4" y="1086.0" font-size="29" text-anchor="middle" stroke="#000" stroke-width="0.6">*</text>
<line x1="1360.2" y1="1136.6" x2="1406.5" y2="1136.6" stroke="#000" stroke-width="2.8" />
<line x1="1410.5" y1="1136.6" x2="1456.6" y2="1136.6" stroke="#000" stroke-width="2.8" />
<text x="1363.9" y="1133.7" font-size="29" text-anchor="middle" stroke="#000" stroke-width="0.6">*</text>
<text x="1376.8" y="1133.7" font-size="29" text-anchor="middle" stroke="#000" stroke-width="0.6">*</text>
<text x="1389.7" y="1133.7" font-size="29" text-anchor="middle" stroke="#000" stroke-width="0.6">*</text>
<text x="1402.5" y="1133.7" font-size="29" text-anchor="middle" stroke="#000" stroke-width="0.6">*</text>
<text x="1433.5" y="1128.2" font-size="22.4" text-anchor="middle" font-weight="normal" fill="#000" >0.07</text>
<line x1="1365.3" y1="1295.5" x2="1365.3" y2="1312.0" stroke="#9c9c9c" stroke-width="1.8" />
<line x1="1361.3" y1="1295.5" x2="1369.3" y2="1295.5" stroke="#9c9c9c" stroke-width="2.0" />
<line x1="1361.3" y1="1312.0" x2="1369.3" y2="1312.0" stroke="#9c9c9c" stroke-width="2.0" />
<line x1="1352.3" y1="1303.9" x2="1378.3" y2="1303.9" stroke="#9c9c9c" stroke-width="2.1" />
<circle cx="1356.2" cy="1294.9" r="5.1" fill="#000000"/>
<circle cx="1365.2" cy="1301.6" r="5.1" fill="#000000"/>
<circle cx="1374.5" cy="1298.9" r="5.1" fill="#000000"/>
<circle cx="1374.5" cy="1308.7" r="5.1" fill="#000000"/>
<circle cx="1356.2" cy="1314.0" r="5.1" fill="#000000"/>
<line x1="1406.5" y1="1174.2" x2="1406.5" y2="1233.8" stroke="#cbcbcb" stroke-width="1.8" />
<line x1="1402.5" y1="1174.2" x2="1410.5" y2="1174.2" stroke="#cbcbcb" stroke-width="2.0" />
<line x1="1402.5" y1="1233.8" x2="1410.5" y2="1233.8" stroke="#cbcbcb" stroke-width="2.0" />
<line x1="1393.5" y1="1204.1" x2="1419.5" y2="1204.1" stroke="#cbcbcb" stroke-width="2.1" />
<circle cx="1406.5" cy="1152.5" r="5.1" fill="#e60000"/>
<circle cx="1397.8" cy="1212.1" r="5.1" fill="#e60000"/>
<circle cx="1415.0" cy="1208.1" r="5.1" fill="#e60000"/>
<circle cx="1415.0" cy="1220.0" r="5.1" fill="#e60000"/>
<circle cx="1397.8" cy="1227.4" r="5.1" fill="#e60000"/>
<line x1="1447.3" y1="1215.5" x2="1447.3" y2="1259.7" stroke="#cbcbcb" stroke-width="1.8" />
<line x1="1443.3" y1="1215.5" x2="1451.3" y2="1215.5" stroke="#cbcbcb" stroke-width="2.0" />
<line x1="1443.3" y1="1259.7" x2="1451.3" y2="1259.7" stroke="#cbcbcb" stroke-width="2.0" />
<line x1="1434.3" y1="1237.5" x2="1460.3" y2="1237.5" stroke="#cbcbcb" stroke-width="2.1" />
<circle cx="1438.8" cy="1218.7" r="5.1" fill="#0000e6"/>
<circle cx="1438.8" cy="1228.8" r="5.1" fill="#0000e6"/>
<circle cx="1456.6" cy="1227.4" r="5.1" fill="#0000e6"/>
<circle cx="1447.3" cy="1239.9" r="5.1" fill="#0000e6"/>
<circle cx="1447.3" cy="1274.3" r="5.1" fill="#0000e6"/>
<text x="1362.1" y="1342.0" font-size="22.4" text-anchor="middle" font-weight="normal" fill="#000" >-</text>
<text x="1403.9" y="1342.0" font-size="22.4" text-anchor="middle" font-weight="normal" fill="#000" >-</text>
<text x="1446.3" y="1342.0" font-size="22.4" text-anchor="middle" font-weight="normal" fill="#000" >+</text>
<text x="1484.4" y="1341.3" font-size="22.4" text-anchor="start" font-weight="normal" fill="#000" >ABT-737</text>
<line x1="1351.5" y1="1354.2" x2="1374.5" y2="1354.2" stroke="#000" stroke-width="5.0" />
<line x1="1389.9" y1="1354.2" x2="1460.0" y2="1354.2" stroke="#000" stroke-width="5.0" />
<text x="1363.2" y="1381.5" font-size="22.4" text-anchor="middle" font-weight="normal" fill="#000" >ND</text>
<text x="1425.0" y="1381.5" font-size="22.4" text-anchor="middle" font-weight="normal" fill="#000" >HFD</text>
<text transform="translate(1262.3,1186.3) rotate(-90)" x="0" y="0" font-size="22.4" text-anchor="middle" >SA-β-gal positive area (%)</text>
<text x="3.2" y="1452.7" font-size="30" text-anchor="start" font-weight="bold" fill="#000" >h</text>
<line x1="116.6" y1="1494.7" x2="116.6" y2="1748.2" stroke="#000" stroke-width="4.5" />
<line x1="102.0" y1="1746.0" x2="361.4" y2="1746.0" stroke="#000" stroke-width="4.5" />
<line x1="102.0" y1="1495.6" x2="116.6" y2="1495.6" stroke="#000" stroke-width="4.5" />
<text x="90.6" y="1503.8" font-size="22.4" text-anchor="end" font-weight="normal" fill="#000" >4</text>
<line x1="102.0" y1="1558.2" x2="116.6" y2="1558.2" stroke="#000" stroke-width="4.5" />
<text x="90.6" y="1566.4" font-size="22.4" text-anchor="end" font-weight="normal" fill="#000" >3</text>
<line x1="102.0" y1="1620.8" x2="116.6" y2="1620.8" stroke="#000" stroke-width="4.5" />
<text x="90.6" y="1629.0" font-size="22.4" text-anchor="end" font-weight="normal" fill="#000" >2</text>
<line x1="102.0" y1="1683.4" x2="116.6" y2="1683.4" stroke="#000" stroke-width="4.5" />
<text x="90.6" y="1691.6" font-size="22.4" text-anchor="end" font-weight="normal" fill="#000" >1</text>
<line x1="102.0" y1="1746.0" x2="116.6" y2="1746.0" stroke="#000" stroke-width="4.5" />
<text x="90.6" y="1754.2" font-size="22.4" text-anchor="end" font-weight="normal" fill="#000" >0</text>
<line x1="239.5" y1="1496.0" x2="239.5" y2="1745.0" stroke="#000" stroke-width="2.4" stroke-dasharray="6.5 4.8"/>
<line x1="255.0" y1="1560.9" x2="301.7" y2="1560.9" stroke="#000" stroke-width="2.8" />
<text x="278.0" y="1557.4" font-size="29" text-anchor="middle" stroke="#000" stroke-width="0.6">*</text>
<line x1="136.2" y1="1605.7" x2="136.2" y2="1668.2" stroke="#9c9c9c" stroke-width="1.8" />
<line x1="132.2" y1="1605.7" x2="140.2" y2="1605.7" stroke="#9c9c9c" stroke-width="2.0" />
<line x1="132.2" y1="1668.2" x2="140.2" y2="1668.2" stroke="#9c9c9c" stroke-width="2.0" />
<line x1="128.2" y1="1636.2" x2="144.2" y2="1636.2" stroke="#9c9c9c" stroke-width="2.1" />
<circle cx="136.2" cy="1605.7" r="5.1" fill="#000000"/>
<circle cx="136.2" cy="1635.2" r="5.1" fill="#000000"/>
<circle cx="136.2" cy="1668.2" r="5.1" fill="#000000"/>
<circle cx="174.2" cy="1619.7" r="5.1" fill="#e60000"/>
<circle cx="181.3" cy="1611.3" r="5.1" fill="#e60000"/>
<line x1="218.7" y1="1612.0" x2="218.7" y2="1665.0" stroke="#cbcbcb" stroke-width="1.8" />
<line x1="214.7" y1="1612.0" x2="222.7" y2="1612.0" stroke="#cbcbcb" stroke-width="2.0" />
<line x1="214.7" y1="1665.0" x2="222.7" y2="1665.0" stroke="#cbcbcb" stroke-width="2.0" />
<line x1="210.7" y1="1638.7" x2="226.7" y2="1638.7" stroke="#cbcbcb" stroke-width="2.1" />
<circle cx="218.7" cy="1603.5" r="5.1" fill="#0000e6"/>
<circle cx="218.7" cy="1623.7" r="5.1" fill="#0000e6"/>
<circle cx="218.7" cy="1650.2" r="5.1" fill="#0000e6"/>
<circle cx="218.7" cy="1676.6" r="5.1" fill="#0000e6"/>
<line x1="253.0" y1="1662.0" x2="267.0" y2="1662.0" stroke="#9c9c9c" stroke-width="2.1" />
<circle cx="259.7" cy="1652.7" r="5.1" fill="#000000"/>
<circle cx="263.8" cy="1665.7" r="5.1" fill="#000000"/>
<circle cx="256.6" cy="1669.8" r="5.1" fill="#000000"/>
<line x1="293.1" y1="1585.8" x2="309.1" y2="1585.8" stroke="#cbcbcb" stroke-width="2.1" />
<circle cx="301.1" cy="1578.6" r="5.1" fill="#e60000"/>
<circle cx="301.1" cy="1592.6" r="5.1" fill="#e60000"/>
<line x1="342.2" y1="1633.0" x2="342.2" y2="1681.0" stroke="#cbcbcb" stroke-width="1.8" />
<line x1="338.2" y1="1633.0" x2="346.2" y2="1633.0" stroke="#cbcbcb" stroke-width="2.0" />
<line x1="338.2" y1="1681.0" x2="346.2" y2="1681.0" stroke="#cbcbcb" stroke-width="2.0" />
<line x1="334.2" y1="1658.0" x2="350.2" y2="1658.0" stroke="#cbcbcb" stroke-width="4" />
<circle cx="342.2" cy="1640.2" r="5.1" fill="#0000e6"/>
<circle cx="342.2" cy="1674.4" r="5.1" fill="#0000e6"/>
<text x="136.2" y="1773.0" font-size="22.4" text-anchor="middle" font-weight="normal" fill="#000" >-</text>
<text x="179.5" y="1773.0" font-size="22.4" text-anchor="middle" font-weight="normal" fill="#000" >-</text>
<text x="220.2" y="1773.0" font-size="22.4" text-anchor="middle" font-weight="normal" fill="#000" >+</text>
<text x="259.7" y="1773.0" font-size="22.4" text-anchor="middle" font-weight="normal" fill="#000" >-</text>
<text x="303.9" y="1773.0" font-size="22.4" text-anchor="middle" font-weight="normal" fill="#000" >-</text>
<text x="343.1" y="1773.0" font-size="22.4" text-anchor="middle" font-weight="normal" fill="#000" >+</text>
<text x="371.7" y="1773.0" font-size="22.4" text-anchor="start" font-weight="normal" fill="#000" >ABT-737</text>
<line x1="126.0" y1="1784.6" x2="148.7" y2="1784.6" stroke="#000" stroke-width="5.0" />
<line x1="169.5" y1="1784.6" x2="238.9" y2="1784.6" stroke="#000" stroke-width="5.0" />
<line x1="249.5" y1="1784.6" x2="272.5" y2="1784.6" stroke="#000" stroke-width="5.0" />
<line x1="293.3" y1="1784.6" x2="362.4" y2="1784.6" stroke="#000" stroke-width="5.0" />
<text x="138.0" y="1821.3" font-size="22.4" text-anchor="middle" font-weight="normal" fill="#000" >ND</text>
<text x="204.9" y="1821.3" font-size="22.4" text-anchor="middle" font-weight="normal" fill="#000" >HFD</text>
<text x="261.8" y="1821.3" font-size="22.4" text-anchor="middle" font-weight="normal" fill="#000" >ND</text>
<text x="329.3" y="1821.3" font-size="22.4" text-anchor="middle" font-weight="normal" fill="#000" >HFD</text>
<line x1="126.0" y1="1835.9" x2="242.0" y2="1835.9" stroke="#000" stroke-width="5.0" />
<line x1="249.5" y1="1835.9" x2="365.5" y2="1835.9" stroke="#000" stroke-width="5.0" />
<text x="180.7" y="1871.0" font-size="22.4" text-anchor="middle" font-weight="normal" fill="#000" >Female</text>
<text x="308.4" y="1871.0" font-size="22.4" text-anchor="middle" font-weight="normal" fill="#000" >Male</text>
<text transform="translate(60,1617.5) rotate(-90)" font-size="22.4" text-anchor="middle">PWV (m s<tspan font-size="15" dy="-8.5">-1</tspan><tspan dy="8.5" dx="1.5">)</tspan></text>
<text x="1.3" y="1949.8" font-size="30" text-anchor="start" font-weight="bold" fill="#000" >i</text>
<text x="852.0" y="1987.5" font-size="22.4" text-anchor="middle" font-weight="normal" fill="#000" >Quality control</text>
<rect x="43.4" y="2010" width="357.9" height="68.5" fill="#4472c4"/>
<rect x="408.6" y="2010" width="202.9" height="68.5" fill="#4472c4"/>
<text x="510.1" y="2052.5" font-size="22.7" text-anchor="middle" font-weight="normal" fill="#fff" >Female ND</text>
<rect x="618.7" y="2010" width="202.3" height="68.5" fill="#4472c4"/>
<text x="719.9" y="2052.5" font-size="22.7" text-anchor="middle" font-weight="normal" fill="#fff" >Female HFD</text>
<rect x="828.5" y="2010" width="202.8" height="68.5" fill="#4472c4"/>
<text x="929.9" y="2038.8" font-size="22.7" text-anchor="middle" font-weight="normal" fill="#fff" >Female HFD +</text>
<text x="929.9" y="2065.6" font-size="22.7" text-anchor="middle" font-weight="normal" fill="#fff" >ABT-737</text>
<rect x="1038.9" y="2010" width="201.6" height="68.5" fill="#4472c4"/>
<text x="1139.7" y="2052.5" font-size="22.7" text-anchor="middle" font-weight="normal" fill="#fff" >Male ND</text>
<rect x="1248.7" y="2010" width="201.6" height="68.5" fill="#4472c4"/>
<text x="1349.5" y="2052.5" font-size="22.7" text-anchor="middle" font-weight="normal" fill="#fff" >Male HFD</text>
<rect x="1458.7" y="2010" width="202.5" height="68.5" fill="#4472c4"/>
<text x="1560.0" y="2038.8" font-size="22.7" text-anchor="middle" font-weight="normal" fill="#fff" >Male HFD +</text>
<text x="1560.0" y="2065.6" font-size="22.7" text-anchor="middle" font-weight="normal" fill="#fff" >ABT-737</text>
<rect x="43.4" y="2087" width="357.9" height="44.0" fill="#e9ebf5"/>
<text x="222.3" y="2116.0" font-size="22.7" text-anchor="middle" font-weight="normal" fill="#2c3240" >Estimated Number of Cells</text>
<rect x="408.6" y="2087" width="202.9" height="44.0" fill="#e9ebf5"/>
<text x="510.1" y="2116.0" font-size="22.7" text-anchor="middle" font-weight="normal" fill="#000" >5,469</text>
<rect x="618.7" y="2087" width="202.3" height="44.0" fill="#e9ebf5"/>
<text x="719.9" y="2116.0" font-size="22.7" text-anchor="middle" font-weight="normal" fill="#000" >2,635</text>
<rect x="828.5" y="2087" width="202.8" height="44.0" fill="#e9ebf5"/>
<text x="929.9" y="2116.0" font-size="22.7" text-anchor="middle" font-weight="normal" fill="#000" >6,084</text>
<rect x="1038.9" y="2087" width="201.6" height="44.0" fill="#e9ebf5"/>
<text x="1139.7" y="2116.0" font-size="22.7" text-anchor="middle" font-weight="normal" fill="#000" >5,775</text>
<rect x="1248.7" y="2087" width="201.6" height="44.0" fill="#e9ebf5"/>
<text x="1349.5" y="2116.0" font-size="22.7" text-anchor="middle" font-weight="normal" fill="#000" >4,988</text>
<rect x="1458.7" y="2087" width="202.5" height="44.0" fill="#e9ebf5"/>
<text x="1560.0" y="2116.0" font-size="22.7" text-anchor="middle" font-weight="normal" fill="#000" >4,888</text>
<rect x="43.4" y="2135.2" width="357.9" height="46.8" fill="#cfd5ea"/>
<text x="222.3" y="2165.6" font-size="22.7" text-anchor="middle" font-weight="normal" fill="#2c3240" >Fraction Reads in Cells</text>
<rect x="408.6" y="2135.2" width="202.9" height="46.8" fill="#cfd5ea"/>
<text x="510.1" y="2165.6" font-size="22.7" text-anchor="middle" font-weight="normal" fill="#3c3f48" >82.3%</text>
<rect x="618.7" y="2135.2" width="202.3" height="46.8" fill="#cfd5ea"/>
<text x="719.9" y="2165.6" font-size="22.7" text-anchor="middle" font-weight="normal" fill="#3c3f48" >75.2%</text>
<rect x="828.5" y="2135.2" width="202.8" height="46.8" fill="#cfd5ea"/>
<text x="929.9" y="2165.6" font-size="22.7" text-anchor="middle" font-weight="normal" fill="#3c3f48" >85.5%</text>
<rect x="1038.9" y="2135.2" width="201.6" height="46.8" fill="#cfd5ea"/>
<text x="1139.7" y="2165.6" font-size="22.7" text-anchor="middle" font-weight="normal" fill="#3c3f48" >74.6%</text>
<rect x="1248.7" y="2135.2" width="201.6" height="46.8" fill="#cfd5ea"/>
<text x="1349.5" y="2165.6" font-size="22.7" text-anchor="middle" font-weight="normal" fill="#3c3f48" >81.0%</text>
<rect x="1458.7" y="2135.2" width="202.5" height="46.8" fill="#cfd5ea"/>
<text x="1560.0" y="2165.6" font-size="22.7" text-anchor="middle" font-weight="normal" fill="#3c3f48" >84.6%</text>
<rect x="43.4" y="2186.1" width="357.9" height="46.1" fill="#e9ebf5"/>
<text x="222.3" y="2216.1" font-size="22.7" text-anchor="middle" font-weight="normal" fill="#2c3240" >Mean Reads per Cell</text>
<rect x="408.6" y="2186.1" width="202.9" height="46.1" fill="#e9ebf5"/>
<text x="510.1" y="2216.1" font-size="22.7" text-anchor="middle" font-weight="normal" fill="#000" >54,698</text>
<rect x="618.7" y="2186.1" width="202.3" height="46.1" fill="#e9ebf5"/>
<text x="719.9" y="2216.1" font-size="22.7" text-anchor="middle" font-weight="normal" fill="#000" >58,897</text>
<rect x="828.5" y="2186.1" width="202.8" height="46.1" fill="#e9ebf5"/>
<text x="929.9" y="2216.1" font-size="22.7" text-anchor="middle" font-weight="normal" fill="#000" >58,233</text>
<rect x="1038.9" y="2186.1" width="201.6" height="46.1" fill="#e9ebf5"/>
<text x="1139.7" y="2216.1" font-size="22.7" text-anchor="middle" font-weight="normal" fill="#000" >55,336</text>
<rect x="1248.7" y="2186.1" width="201.6" height="46.1" fill="#e9ebf5"/>
<text x="1349.5" y="2216.1" font-size="22.7" text-anchor="middle" font-weight="normal" fill="#000" >69,127</text>
<rect x="1458.7" y="2186.1" width="202.5" height="46.1" fill="#e9ebf5"/>
<text x="1560.0" y="2216.1" font-size="22.7" text-anchor="middle" font-weight="normal" fill="#000" >58,106</text>
<rect x="43.4" y="2236.3" width="357.9" height="48.5" fill="#cfd5ea"/>
<text x="222.3" y="2267.6" font-size="22.7" text-anchor="middle" font-weight="normal" fill="#2c3240" >Median UMI Counts per Cell</text>
<rect x="408.6" y="2236.3" width="202.9" height="48.5" fill="#cfd5ea"/>
<text x="510.1" y="2267.6" font-size="22.7" text-anchor="middle" font-weight="normal" fill="#000" >6,026</text>
<rect x="618.7" y="2236.3" width="202.3" height="48.5" fill="#cfd5ea"/>
<text x="719.9" y="2267.6" font-size="22.7" text-anchor="middle" font-weight="normal" fill="#000" >6,817</text>
<rect x="828.5" y="2236.3" width="202.8" height="48.5" fill="#cfd5ea"/>
<text x="929.9" y="2267.6" font-size="22.7" text-anchor="middle" font-weight="normal" fill="#000" >8,659</text>
<rect x="1038.9" y="2236.3" width="201.6" height="48.5" fill="#cfd5ea"/>
<text x="1139.7" y="2267.6" font-size="22.7" text-anchor="middle" font-weight="normal" fill="#000" >5,965</text>
<rect x="1248.7" y="2236.3" width="201.6" height="48.5" fill="#cfd5ea"/>
<text x="1349.5" y="2267.6" font-size="22.7" text-anchor="middle" font-weight="normal" fill="#000" >9,040</text>
<rect x="1458.7" y="2236.3" width="202.5" height="48.5" fill="#cfd5ea"/>
<text x="1560.0" y="2267.6" font-size="22.7" text-anchor="middle" font-weight="normal" fill="#000" >7,196</text>
<rect x="43.4" y="2288.4" width="357.9" height="46.7" fill="#e9ebf5"/>
<text x="222.3" y="2318.8" font-size="22.7" text-anchor="middle" font-weight="normal" fill="#2c3240" >Median Genes per Cell</text>
<rect x="408.6" y="2288.4" width="202.9" height="46.7" fill="#e9ebf5"/>
<text x="510.1" y="2318.8" font-size="22.7" text-anchor="middle" font-weight="normal" fill="#000" >2,229</text>
<rect x="618.7" y="2288.4" width="202.3" height="46.7" fill="#e9ebf5"/>
<text x="719.9" y="2318.8" font-size="22.7" text-anchor="middle" font-weight="normal" fill="#000" >2,280</text>
<rect x="828.5" y="2288.4" width="202.8" height="46.7" fill="#e9ebf5"/>
<text x="929.9" y="2318.8" font-size="22.7" text-anchor="middle" font-weight="normal" fill="#000" >2,313</text>
<rect x="1038.9" y="2288.4" width="201.6" height="46.7" fill="#e9ebf5"/>
<text x="1139.7" y="2318.8" font-size="22.7" text-anchor="middle" font-weight="normal" fill="#000" >2,210</text>
<rect x="1248.7" y="2288.4" width="201.6" height="46.7" fill="#e9ebf5"/>
<text x="1349.5" y="2318.8" font-size="22.7" text-anchor="middle" font-weight="normal" fill="#000" >2,816</text>
<rect x="1458.7" y="2288.4" width="202.5" height="46.7" fill="#e9ebf5"/>
<text x="1560.0" y="2318.8" font-size="22.7" text-anchor="middle" font-weight="normal" fill="#000" >2,430</text>
<rect x="43.4" y="2339.8" width="357.9" height="46.4" fill="#cfd5ea"/>
<text x="222.3" y="2370.0" font-size="22.7" text-anchor="middle" font-weight="normal" fill="#2c3240" >Total Genes Detected</text>
<rect x="408.6" y="2339.8" width="202.9" height="46.4" fill="#cfd5ea"/>
<text x="510.1" y="2370.0" font-size="22.7" text-anchor="middle" font-weight="normal" fill="#000" >24,060</text>
<rect x="618.7" y="2339.8" width="202.3" height="46.4" fill="#cfd5ea"/>
<text x="719.9" y="2370.0" font-size="22.7" text-anchor="middle" font-weight="normal" fill="#000" >22,715</text>
<rect x="828.5" y="2339.8" width="202.8" height="46.4" fill="#cfd5ea"/>
<text x="929.9" y="2370.0" font-size="22.7" text-anchor="middle" font-weight="normal" fill="#000" >24,439</text>
<rect x="1038.9" y="2339.8" width="201.6" height="46.4" fill="#cfd5ea"/>
<text x="1139.7" y="2370.0" font-size="22.7" text-anchor="middle" font-weight="normal" fill="#000" >24,072</text>
<rect x="1248.7" y="2339.8" width="201.6" height="46.4" fill="#cfd5ea"/>
<text x="1349.5" y="2370.0" font-size="22.7" text-anchor="middle" font-weight="normal" fill="#000" >24,260</text>
<rect x="1458.7" y="2339.8" width="202.5" height="46.4" fill="#cfd5ea"/>
<text x="1560.0" y="2370.0" font-size="22.7" text-anchor="middle" font-weight="normal" fill="#000" >23,919</text>
<text x="1.1" y="2471.3" font-size="30" text-anchor="start" font-weight="bold" fill="#000" >j</text>
<rect x="134" y="2507.4" width="40" height="36.3" fill="#aeaef2"/>
<rect x="176.5" y="2507.4" width="40" height="36.3" fill="#fae6e8"/>
<rect x="219" y="2507.4" width="40" height="36.3" fill="#7878ea"/>
<rect x="261.6" y="2507.4" width="40" height="36.3" fill="#bcbcf4"/>
<rect x="304.3" y="2507.4" width="40" height="36.3" fill="#2222e0"/>
<rect x="346.8" y="2507.4" width="40" height="36.3" fill="#f8f8fd"/>
<rect x="389.3" y="2507.4" width="40" height="36.3" fill="#e83434"/>
<rect x="134" y="2546.2" width="40" height="36.3" fill="#e60a0a"/>
<rect x="176.5" y="2546.2" width="40" height="36.3" fill="#e82c2c"/>
<rect x="219" y="2546.2" width="40" height="36.3" fill="#e80404"/>
<rect x="261.6" y="2546.2" width="40" height="36.3" fill="#e81212"/>
<rect x="304.3" y="2546.2" width="40" height="36.3" fill="#e81e1e"/>
<rect x="346.8" y="2546.2" width="40" height="36.3" fill="#1c1ce0"/>
<rect x="389.3" y="2546.2" width="40" height="36.3" fill="#0c0cde"/>
<rect x="134" y="2585" width="40" height="36.3" fill="#4848e6"/>
<rect x="176.5" y="2585" width="40" height="36.3" fill="#0c0ce2"/>
<rect x="219" y="2585" width="40" height="36.3" fill="#7878ea"/>
<rect x="261.6" y="2585" width="40" height="36.3" fill="#4040e6"/>
<rect x="304.3" y="2585" width="40" height="36.3" fill="#ececf8"/>
<rect x="346.8" y="2585" width="40" height="36.3" fill="#e42222"/>
<rect x="389.3" y="2585" width="40" height="36.3" fill="#f9dede"/>
<text x="124.1" y="2509.8" font-size="22.4" text-anchor="end" font-weight="normal" fill="#000" >HFD +</text>
<text x="123.5" y="2536.6" font-size="22.4" text-anchor="end" font-weight="normal" fill="#000" >ABT-737</text>
<text x="123.5" y="2572.3" font-size="22.4" text-anchor="end" font-weight="normal" fill="#000" >HFD</text>
<text x="123.5" y="2610.0" font-size="22.4" text-anchor="end" font-weight="normal" fill="#000" >ND</text>
<text transform="translate(164.0,2634.5) rotate(-90)" font-size="22.4" text-anchor="end" font-style="italic">Il6</text>
<text transform="translate(206.5,2634.5) rotate(-90)" font-size="22.4" text-anchor="end" font-style="italic">Bcl2l2</text>
<text transform="translate(249.0,2634.5) rotate(-90)" font-size="22.4" text-anchor="end" font-style="italic">Ccnd1</text>
<text transform="translate(291.6,2634.5) rotate(-90)" font-size="22.4" text-anchor="end" font-style="italic">Ccnd2</text>
<text transform="translate(334.3,2634.5) rotate(-90)" font-size="22.4" text-anchor="end" font-style="italic">Cdkn1a</text>
<text transform="translate(376.8,2634.5) rotate(-90)" font-size="22.4" text-anchor="end" font-style="italic">Lmnb1</text>
<text transform="translate(419.3,2634.5) rotate(-90)" font-size="22.4" text-anchor="end" font-style="italic">Lbr</text>
<defs><linearGradient id="cb" x1="0" y1="0" x2="0" y2="1"><stop offset="0" stop-color="#e60000"/><stop offset="0.5" stop-color="#ffffff"/><stop offset="1" stop-color="#0000e0"/></linearGradient></defs>
<rect x="512.2" y="2502.2" width="36.8" height="121.5" fill="url(#cb)"/>
<text x="585.0" y="2525.1" font-size="22.4" text-anchor="end" font-weight="normal" fill="#000" >1</text>
<text x="585.6" y="2572.3" font-size="22.4" text-anchor="end" font-weight="normal" fill="#000" >0</text>
<text x="585.0" y="2618.5" font-size="22.4" text-anchor="end" font-weight="normal" fill="#000" >-1</text>
<text transform="translate(465.5,2568.0) rotate(-90)" x="0" y="0" font-size="22.4" text-anchor="middle" >Normalized</text>
<text transform="translate(493.0,2564.0) rotate(-90)" x="0" y="0" font-size="22.4" text-anchor="middle" >expression</text>
</svg>
</body></html>
